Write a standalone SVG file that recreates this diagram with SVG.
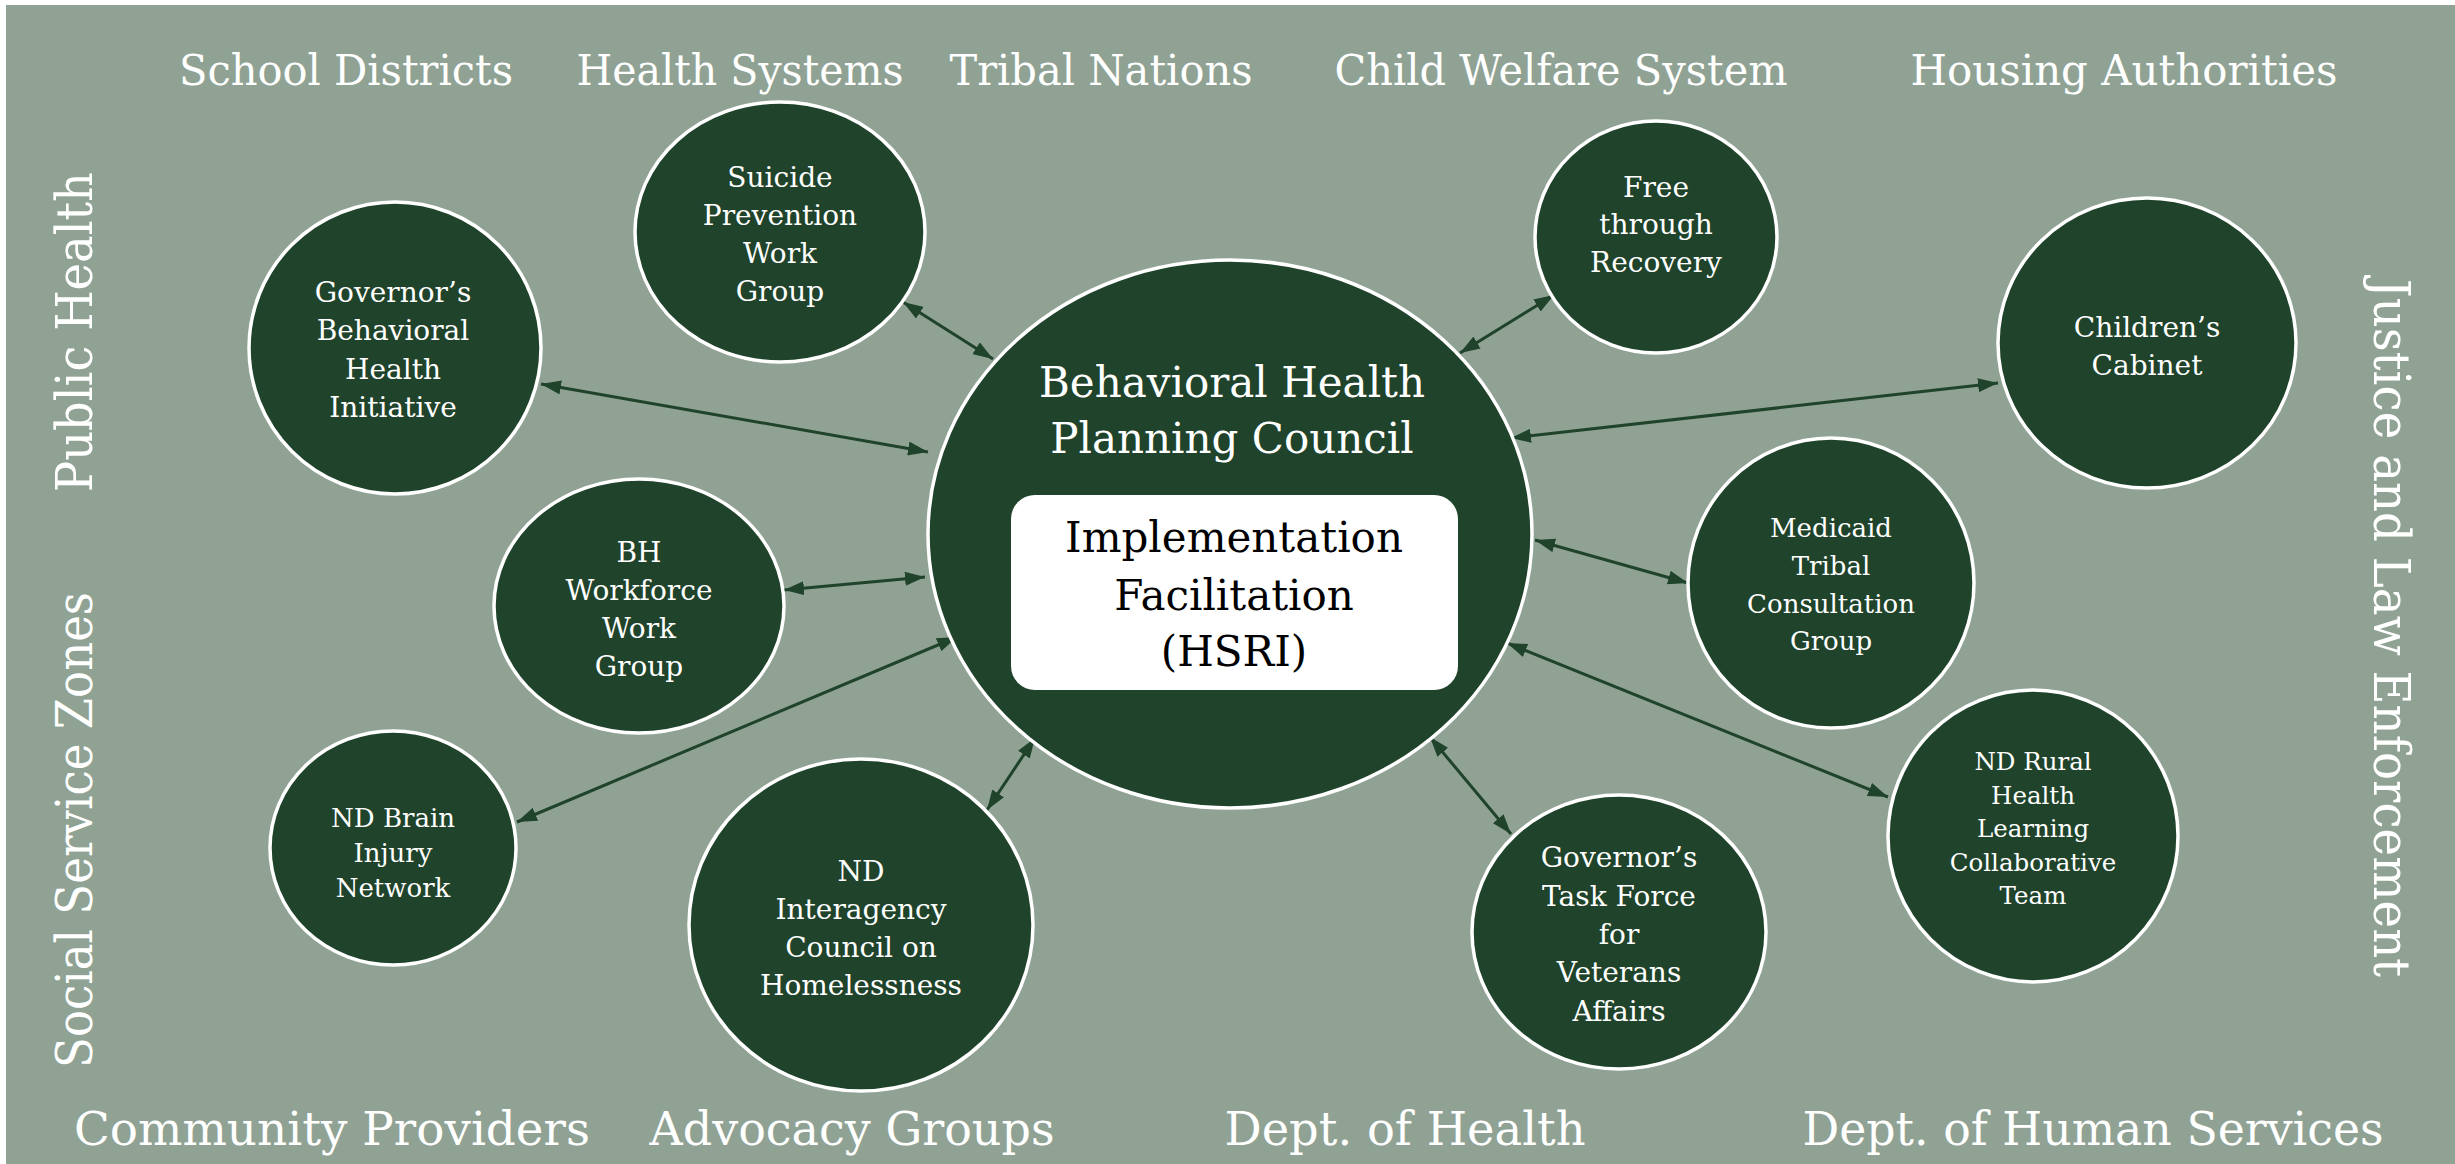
<svg xmlns="http://www.w3.org/2000/svg" width="2455" height="1164" viewBox="0 0 2455 1164">
  <style>
    .bg { fill: #8fa294; }
    .node { fill: #20432b; stroke: #ffffff; stroke-width: 3.5; }
    .lbl { fill: #ffffff; font-family: "DejaVu Serif", "Liberation Serif", serif; text-anchor: middle; }
    .edge { stroke: #20432b; stroke-width: 3; fill: none; marker-start: url(#head); marker-end: url(#head); }
    .top { font-size: 42px; }
    .bottom { font-size: 47px; }
    .side { font-size: 50px; }
    .n28 { font-size: 28px; }
    .n26 { font-size: 26px; }
    .n25 { font-size: 24.5px; }
    .title { font-size: 42px; }
    .inner { fill: #000000; font-size: 42px; }
  </style>
  <defs>
    <marker id="head" viewBox="0 0 20 14" refX="20" refY="7" markerWidth="20" markerHeight="14" markerUnits="userSpaceOnUse" orient="auto-start-reverse">
      <path d="M0,0 L20,7 L0,14 z" fill="#20432b"/>
    </marker>
  </defs>

  <!-- backdrop -->
  <rect class="bg" x="6" y="5" width="2449" height="1159"/>

  <!-- sector labels along the edges -->
  <g id="sector-labels">
    <text class="lbl top" x="346" y="85" textLength="334" lengthAdjust="spacingAndGlyphs">School Districts</text>
    <text class="lbl top" x="740" y="85" textLength="327" lengthAdjust="spacingAndGlyphs">Health Systems</text>
    <text class="lbl top" x="1101" y="85" textLength="303" lengthAdjust="spacingAndGlyphs">Tribal Nations</text>
    <text class="lbl top" x="1561" y="85" textLength="453" lengthAdjust="spacingAndGlyphs">Child Welfare System</text>
    <text class="lbl top" x="2124" y="85" textLength="427" lengthAdjust="spacingAndGlyphs">Housing Authorities</text>

    <text class="lbl bottom" x="332" y="1145" textLength="516" lengthAdjust="spacingAndGlyphs">Community Providers</text>
    <text class="lbl bottom" x="852" y="1145" textLength="405" lengthAdjust="spacingAndGlyphs">Advocacy Groups</text>
    <text class="lbl bottom" x="1405" y="1145" textLength="361" lengthAdjust="spacingAndGlyphs">Dept. of Health</text>
    <text class="lbl bottom" x="2093" y="1145" textLength="581" lengthAdjust="spacingAndGlyphs">Dept. of Human Services</text>

    <text class="lbl side" transform="translate(92,332) rotate(-90)" x="0" y="0" textLength="320" lengthAdjust="spacingAndGlyphs">Public Health</text>
    <text class="lbl side" transform="translate(92,830) rotate(-90)" x="0" y="0" textLength="476" lengthAdjust="spacingAndGlyphs">Social Service Zones</text>
    <text class="lbl side" transform="translate(2374,628) rotate(90)" x="0" y="0" textLength="698" lengthAdjust="spacingAndGlyphs">Justice and Law Enforcement</text>
  </g>

  <!-- connectors: every group links both ways to the council -->
  <g id="connectors">
    <line class="edge" x1="903" y1="302" x2="993" y2="359"/>
    <line class="edge" x1="541" y1="384" x2="928" y2="452"/>
    <line class="edge" x1="784" y1="590" x2="925" y2="577"/>
    <line class="edge" x1="517" y1="822" x2="957" y2="637"/>
    <line class="edge" x1="1035" y1="738" x2="987" y2="810"/>
    <line class="edge" x1="1554" y1="295" x2="1460" y2="353"/>
    <line class="edge" x1="1511" y1="438" x2="1998" y2="383"/>
    <line class="edge" x1="1535" y1="540" x2="1688" y2="583"/>
    <line class="edge" x1="1507" y1="643" x2="1888" y2="797"/>
    <line class="edge" x1="1430" y1="737" x2="1511" y2="834"/>
  </g>

  <!-- central council -->
  <g id="planning-council">
    <ellipse class="node" cx="1230" cy="534" rx="302" ry="274"/>
    <text class="lbl title" x="1232" y="397">Behavioral Health</text>
    <text class="lbl title" x="1232" y="453">Planning Council</text>
    <rect x="1011" y="495" width="447" height="195" rx="24" ry="24" fill="#ffffff"/>
    <text class="lbl inner" x="1234" y="552">Implementation</text>
    <text class="lbl inner" x="1234" y="610">Facilitation</text>
    <text class="lbl inner" x="1234" y="666">(HSRI)</text>
  </g>

  <g id="suicide-prevention">
    <ellipse class="node" cx="780" cy="232" rx="145" ry="130"/>
    <text class="lbl n28" x="780" y="187">Suicide</text>
    <text class="lbl n28" x="780" y="225">Prevention</text>
    <text class="lbl n28" x="780" y="263">Work</text>
    <text class="lbl n28" x="780" y="301">Group</text>
  </g>

  <g id="governors-bh-initiative">
    <ellipse class="node" cx="395" cy="348" rx="146" ry="146"/>
    <text class="lbl n28" x="393" y="302">Governor’s</text>
    <text class="lbl n28" x="393" y="340">Behavioral</text>
    <text class="lbl n28" x="393" y="379">Health</text>
    <text class="lbl n28" x="393" y="417">Initiative</text>
  </g>

  <g id="bh-workforce">
    <ellipse class="node" cx="639" cy="606" rx="145" ry="127"/>
    <text class="lbl n28" x="639" y="562">BH</text>
    <text class="lbl n28" x="639" y="600">Workforce</text>
    <text class="lbl n28" x="639" y="638">Work</text>
    <text class="lbl n28" x="639" y="676">Group</text>
  </g>

  <g id="nd-brain-injury">
    <ellipse class="node" cx="393" cy="848" rx="123" ry="117"/>
    <text class="lbl n26" x="393" y="827">ND Brain</text>
    <text class="lbl n26" x="393" y="862">Injury</text>
    <text class="lbl n26" x="393" y="897">Network</text>
  </g>

  <g id="nd-homelessness">
    <ellipse class="node" cx="861" cy="925" rx="172" ry="166"/>
    <text class="lbl n28" x="861" y="881">ND</text>
    <text class="lbl n28" x="861" y="919">Interagency</text>
    <text class="lbl n28" x="861" y="957">Council on</text>
    <text class="lbl n28" x="861" y="995">Homelessness</text>
  </g>

  <g id="free-through-recovery">
    <ellipse class="node" cx="1656" cy="237" rx="121" ry="116"/>
    <text class="lbl n28" x="1656" y="197">Free</text>
    <text class="lbl n28" x="1656" y="234">through</text>
    <text class="lbl n28" x="1656" y="272">Recovery</text>
  </g>

  <g id="childrens-cabinet">
    <ellipse class="node" cx="2147" cy="343" rx="149" ry="145"/>
    <text class="lbl n28" x="2147" y="337">Children’s</text>
    <text class="lbl n28" x="2147" y="375">Cabinet</text>
  </g>

  <g id="medicaid-tribal">
    <ellipse class="node" cx="1831" cy="583" rx="143" ry="145"/>
    <text class="lbl n26" x="1831" y="537">Medicaid</text>
    <text class="lbl n26" x="1831" y="575">Tribal</text>
    <text class="lbl n26" x="1831" y="613">Consultation</text>
    <text class="lbl n26" x="1831" y="650">Group</text>
  </g>

  <g id="nd-rural-health">
    <ellipse class="node" cx="2033" cy="836" rx="145" ry="146"/>
    <text class="lbl n25" x="2033" y="770">ND Rural</text>
    <text class="lbl n25" x="2033" y="804">Health</text>
    <text class="lbl n25" x="2033" y="837">Learning</text>
    <text class="lbl n25" x="2033" y="871">Collaborative</text>
    <text class="lbl n25" x="2033" y="904">Team</text>
  </g>

  <g id="veterans-task-force">
    <ellipse class="node" cx="1619" cy="932" rx="147" ry="137"/>
    <text class="lbl n28" x="1619" y="867">Governor’s</text>
    <text class="lbl n28" x="1619" y="906">Task Force</text>
    <text class="lbl n28" x="1619" y="944">for</text>
    <text class="lbl n28" x="1619" y="982">Veterans</text>
    <text class="lbl n28" x="1619" y="1021">Affairs</text>
  </g>
</svg>
